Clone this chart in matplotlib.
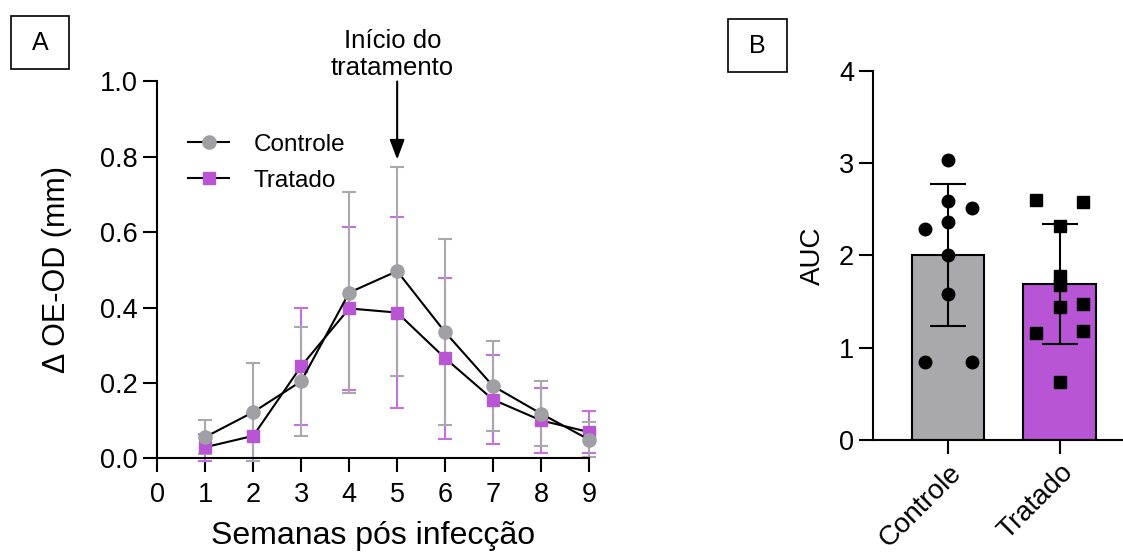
import numpy as np
import matplotlib.pyplot as plt
from matplotlib.patches import Rectangle

plt.rcParams['font.family'] = ['Liberation Sans', 'DejaVu Sans']

# Panel A: weekly OE-OD difference (mean +- SD)
semanas = [1, 2, 3, 4, 5, 6, 7, 8, 9]
controle_media = [0.057, 0.123, 0.205, 0.440, 0.497, 0.335, 0.192, 0.119, 0.050]
controle_dp = [0.044, 0.130, 0.145, 0.267, 0.277, 0.247, 0.120, 0.087, 0.046]
tratado_media = [0.030, 0.060, 0.245, 0.398, 0.387, 0.266, 0.156, 0.101, 0.070]
tratado_dp = [0.036, 0.060, 0.155, 0.217, 0.253, 0.213, 0.118, 0.087, 0.056]
inicio_tratamento = 5

# Panel B: area under the curve per animal
grupos = ['Controle', 'Tratado']
auc_controle = [3.03, 2.59, 2.51, 2.28, 2.36, 2.00, 1.58, 0.84, 0.84]
auc_tratado = [2.60, 2.58, 2.32, 1.78, 1.68, 1.44, 1.47, 1.16, 1.18, 0.63]
jitter_controle = [0, 0, 1, -1, 0, 0, 0, -1, 1]
jitter_tratado = [-1, 1, 0, 0, 0, 0, 1, -1, 1, 0]

cinza = '#a0a0a4'
roxo = '#b855d5'
cinza_barra = '#a9a9ad'
roxo_barra = '#c472e0'

fig = plt.figure(figsize=(11.23, 5.54), dpi=100)

# ---------- Panel A ----------
ax = fig.add_axes([0.1401, 0.1724, 0.3844, 0.6805])
x = np.array(semanas)
ax.errorbar(x, tratado_media, yerr=tratado_dp, fmt='none', ecolor=roxo_barra,
            elinewidth=1.5, capsize=5, capthick=1.5, clip_on=False, zorder=2)
ax.errorbar(x, controle_media, yerr=controle_dp, fmt='none', ecolor=cinza_barra,
            elinewidth=1.5, capsize=5, capthick=1.5, clip_on=False, zorder=2)
ax.plot(x, controle_media, color='black', lw=1.5, marker='o', ms=9.5,
        mfc=cinza, mec=cinza, label='Controle', clip_on=False, zorder=4)
ax.plot(x, tratado_media, color='black', lw=1.5, marker='s', ms=8.5,
        mfc=roxo, mec=roxo, label='Tratado', clip_on=False, zorder=3)

ax.set_xlim(0, 9)
ax.set_ylim(0, 1.0)
ax.set_xticks(range(0, 10))
ax.set_yticks(np.arange(0, 1.01, 0.2))
ax.set_yticklabels([f'{v:.1f}' for v in np.arange(0, 1.01, 0.2)])
ax.tick_params(labelsize=19.5, length=10, width=1.5, pad=4)
ax.tick_params(axis='x', pad=7)
for s in ['top', 'right']:
    ax.spines[s].set_visible(False)
for s in ['left', 'bottom']:
    ax.spines[s].set_linewidth(1.5)
ax.set_xlabel('Semanas pós infecção', fontsize=23, labelpad=9)
ax.set_ylabel('Δ OE-OD (mm)', fontsize=22, labelpad=20)

ax.legend(loc='upper left', bbox_to_anchor=(0.02, 0.92), frameon=False,
          fontsize=17.5, handlelength=1.7, handletextpad=1.0, labelspacing=0.58)

ax.annotate('', xy=(inicio_tratamento, 0.793), xytext=(inicio_tratamento, 1.0),
            arrowprops=dict(arrowstyle='-|>,head_length=1.2,head_width=0.45',
                            color='black', lw=1.5, shrinkA=0, shrinkB=0),
            annotation_clip=False)
ax.text(inicio_tratamento - 0.1, 1.005, 'Início do\ntratamento', ha='center',
        va='bottom', fontsize=18.5, linespacing=1.15, clip_on=False)

# ---------- Panel B ----------
bx = fig.add_axes([0.7778, 0.2058, 0.2222, 0.6669])
pos = np.array([0, 1])
medias = [np.mean(auc_controle), np.mean(auc_tratado)]
dps = [np.std(auc_controle, ddof=1), np.std(auc_tratado, ddof=1)]
bx.bar(pos, medias, width=0.65, color=[cinza_barra, roxo], edgecolor='black',
       linewidth=1.5, zorder=1)
bx.errorbar(pos, medias, yerr=dps, fmt='none', ecolor='black', elinewidth=1.5,
            capsize=13, capthick=1.5, zorder=2)
bx.plot(0 + 0.21 * np.array(jitter_controle), auc_controle, 'o', color='black',
        ms=9, zorder=3)
bx.plot(1 + 0.21 * np.array(jitter_tratado), auc_tratado, 's', color='black',
        ms=8.5, zorder=3)

bx.set_xlim(-0.673, 1.571)
bx.set_ylim(0, 4)
bx.set_yticks([0, 1, 2, 3, 4])
bx.set_xticks(pos)
bx.set_xticklabels(grupos, rotation=45, ha='right', rotation_mode='anchor')
bx.tick_params(labelsize=19.5, length=10, width=1.5, pad=4)
bx.tick_params(axis='x', pad=4, labelsize=20)
for s in ['top', 'right']:
    bx.spines[s].set_visible(False)
for s in ['left', 'bottom']:
    bx.spines[s].set_linewidth(1.5)
bx.set_ylabel('AUC', fontsize=20, labelpad=9)

# Panel letters in boxes
for (x0, y0, w, h, letra) in [(11, 16, 58, 53, 'A'), (728, 19, 59, 53, 'B')]:
    fig.patches.append(Rectangle((x0 / 1123, 1 - (y0 + h) / 554), w / 1123, h / 554,
                                 transform=fig.transFigure, fill=False,
                                 edgecolor='black', lw=1.2))
    fig.text((x0 + w / 2) / 1123, 1 - (y0 + h / 2) / 554, letra, ha='center',
             va='center', fontsize=18)

fig.savefig('out.png', dpi=100)
